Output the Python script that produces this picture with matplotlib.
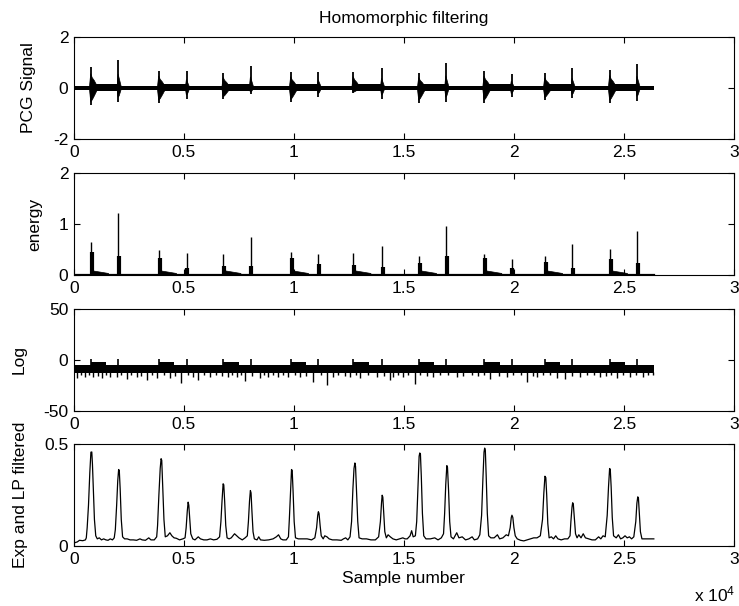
import matplotlib
matplotlib.use("Agg")
import matplotlib.pyplot as plt

plt.rcParams['font.family'] = ['Liberation Sans', 'DejaVu Sans']
plt.rcParams['axes.unicode_minus'] = False
plt.rcParams['mathtext.default'] = 'regular'

# ---------------- data ----------------
title = "Homomorphic filtering"
ylabels = ["PCG Signal", "energy", "Log", "Exp and LP filtered"]
xlabel = "Sample number"
x_ticks = [0, 5000, 10000, 15000, 20000, 25000, 30000]
x_ticklabels = ["0", "0.5", "1", "1.5", "2", "2.5", "3"]
signal_end = 26360

# heart sound positions (S1, S2 alternating), in samples
sound_pos = [770, 2015, 3860, 5120, 6790, 8030, 9860, 11110, 12700,
             13990, 15680, 16910, 18650, 19890, 21410, 22650, 24360, 25600]
pcg_top = [0.81, 1.10, 0.68, 0.67, 0.60, 0.88, 0.64, 0.64, 0.64,
           0.77, 0.60, 0.97, 0.67, 0.54, 0.58, 0.77, 0.71, 0.93]
pcg_bot = [-0.67, -0.56, -0.60, -0.43, -0.43, -0.25, -0.56, -0.34, -0.21,
           -0.43, -0.60, -0.56, -0.60, -0.34, -0.47, -0.40, -0.60, -0.51]

energy_peak = [0.65, 1.21, 0.49, 0.44, 0.41, 0.74, 0.46, 0.41, 0.44,
               0.57, 0.38, 0.96, 0.42, 0.31, 0.38, 0.61, 0.51, 0.87]
energy_body = [0.46, 0.38, 0.33, 0.13, 0.18, 0.18, 0.33, 0.22, 0.20,
               0.15, 0.23, 0.38, 0.33, 0.13, 0.26, 0.14, 0.31, 0.24]

log_spike_x = [121, 500, 879, 1258, 1636, 1939, 2394, 2848, 3333, 3757,
               4364, 4848, 5424, 5651, 6182, 7015, 7394, 7772, 8454, 8833,
               9287, 9742, 10272, 10878, 11484, 11787, 12545, 13000, 13757,
               14363, 14514, 14969, 15498, 16333, 17393, 18377, 18909,
               19666, 20575, 21030, 21938, 22316, 22998, 23907, 24665,
               25271, 25877, 26331]
log_spike_y = [-18, -17, -16.3, -18, -17, -17, -19, -17, -19.6, -18,
               -18, -22.2, -17, -19.6, -17, -17, -17, -20.3, -18, -17,
               -17, -17, -16.3, -21.2, -24.5, -17, -17, -18, -17,
               -19.6, -17, -16.3, -23.9, -17, -17, -15.7, -19,
               -17, -21.2, -17, -18, -19, -17, -17, -18,
               -17, -17, -14.7]
# shallower dips along the lower edge of the log band
log_dip_x = [300, 700, 1080, 1450, 2150, 2600, 3050, 3550, 4100, 4600,
             5200, 5900, 6450, 6750, 7200, 7600, 8100, 8650, 9050, 9500,
             10050, 10550, 11250, 12000, 12300, 12800, 13350, 14100, 14750,
             15200, 15750, 16050, 16650, 17000, 17700, 18100, 18650, 19300,
             19950, 20300, 20850, 21300, 21650, 22650, 23300, 23650, 24200,
             24400, 24950, 25550, 26100]
log_dip_y = [-15, -14.5, -15.5, -14.5, -15, -14.5, -15.5, -14.5, -15, -15.5,
             -14.5, -15, -14.5, -15.5, -14.5, -15, -15.5, -14.5, -15, -14.5,
             -15, -15.5, -14.5, -15, -15.5, -14.5, -15, -15.5, -14.5,
             -15, -14.5, -15.5, -15, -14.5, -15.5, -15, -14.5, -15.5,
             -14.5, -15, -15.5, -14.5, -15, -15.5, -14.5, -15, -15.5,
             -14.5, -15, -14.5, -15]

env_x = [0, 150, 250, 400, 520, 560,
         600, 660, 720, 770, 810, 840, 880, 930, 990, 1060, 1150, 1250, 1350,
         1450, 1550, 1650, 1750, 1830,
         1880, 1940, 1990, 2030, 2060, 2100, 2150, 2210, 2300, 2420, 2550,
         2700, 2850, 3000, 3100, 3250, 3400, 3500, 3650, 3760,
         3800, 3860, 3920, 3960, 3990, 4030, 4090, 4150, 4250, 4360, 4450,
         4550, 4650, 4800, 4950, 5050,
         5100, 5150, 5190, 5220, 5260, 5310, 5400, 5500, 5650, 5750, 5900,
         6050, 6200, 6350, 6500, 6620,
         6680, 6730, 6780, 6810, 6850, 6900, 6960, 7050, 7150, 7300, 7400,
         7500, 7650, 7780, 7880,
         7930, 7980, 8020, 8050, 8090, 8140, 8200, 8320, 8400, 8480, 8650,
         8850, 9050, 9200, 9300, 9400, 9500, 9650, 9750,
         9790, 9850, 9890, 9920, 9960, 10010, 10070, 10200, 10400, 10600,
         10800, 10950,
         11030, 11080, 11110, 11140, 11190, 11240, 11330, 11400, 11500, 11600,
         11750, 11950, 12150, 12250, 12350, 12450, 12550,
         12620, 12680, 12730, 12770, 12800, 12840, 12900, 12960, 13100,
         13300, 13500, 13700, 13850,
         13930, 13980, 14010, 14040, 14080, 14130, 14200, 14280, 14380,
         14500, 14650, 14800, 14950, 15050, 15150, 15280, 15350, 15420, 15520,
         15580, 15640, 15690, 15720, 15750, 15790, 15840, 15900, 16000,
         16200, 16400, 16550, 16700, 16800,
         16850, 16900, 16950, 16980, 17030, 17080, 17140, 17250, 17400,
         17500, 17650, 17800, 17950, 18100, 18200, 18350, 18450,
         18530, 18590, 18640, 18670, 18700, 18740, 18790, 18850, 18950,
         19100, 19250, 19350, 19500, 19650, 19750,
         19830, 19880, 19910, 19950, 20000, 20060, 20150, 20300, 20450,
         20600, 20750, 20900, 21050, 21200,
         21300, 21360, 21410, 21450, 21490, 21540, 21600, 21700, 21800,
         21900, 22000, 22150, 22300, 22450, 22550,
         22590, 22640, 22670, 22700, 22750, 22800, 22870, 22950, 23050,
         23150, 23250, 23400, 23550, 23700, 23850, 23950, 24050, 24150,
         24240, 24300, 24350, 24380, 24420, 24470, 24530, 24650, 24750,
         24850, 24950, 25050, 25150, 25250, 25350, 25450,
         25540, 25590, 25630, 25660, 25700, 25750, 25820, 26000, 26360]
env_y = [0.015, 0.02, 0.028, 0.026, 0.03, 0.04,
         0.09, 0.2, 0.36, 0.46, 0.461, 0.40, 0.28, 0.13, 0.05, 0.035, 0.04,
         0.03, 0.035, 0.03, 0.028, 0.035, 0.03, 0.04,
         0.08, 0.2, 0.32, 0.375, 0.37, 0.28, 0.13, 0.045, 0.035, 0.035, 0.03,
         0.03, 0.028, 0.035, 0.03, 0.028, 0.04, 0.03, 0.03, 0.045,
         0.1, 0.25, 0.38, 0.428, 0.42, 0.3, 0.13, 0.045, 0.05, 0.065, 0.05,
         0.04, 0.038, 0.03, 0.035, 0.04,
         0.09, 0.17, 0.215, 0.2, 0.14, 0.06, 0.035, 0.03, 0.045, 0.035, 0.03,
         0.03, 0.035, 0.03, 0.033, 0.045,
         0.12, 0.22, 0.305, 0.3, 0.22, 0.1, 0.04, 0.035, 0.04, 0.06, 0.05,
         0.04, 0.03, 0.04, 0.05,
         0.12, 0.22, 0.272, 0.26, 0.17, 0.07, 0.035, 0.03, 0.045, 0.03, 0.028,
         0.03, 0.035, 0.045, 0.055, 0.035, 0.03, 0.03, 0.045,
         0.13, 0.28, 0.375, 0.37, 0.27, 0.12, 0.04, 0.035, 0.035, 0.035,
         0.03, 0.04,
         0.09, 0.15, 0.168, 0.16, 0.1, 0.05, 0.035, 0.05, 0.045, 0.035,
         0.03, 0.03, 0.028, 0.035, 0.04, 0.03, 0.045,
         0.12, 0.28, 0.38, 0.407, 0.39, 0.28, 0.12, 0.04, 0.035,
         0.035, 0.03, 0.03, 0.045,
         0.12, 0.21, 0.249, 0.24, 0.16, 0.07, 0.04, 0.055, 0.045,
         0.035, 0.03, 0.035, 0.04, 0.035, 0.035, 0.05, 0.075, 0.045, 0.05,
         0.12, 0.3, 0.44, 0.456, 0.45, 0.34, 0.16, 0.05, 0.035,
         0.035, 0.04, 0.03, 0.04, 0.06,
         0.16, 0.3, 0.394, 0.385, 0.27, 0.12, 0.045, 0.035, 0.065,
         0.04, 0.045, 0.03, 0.035, 0.045, 0.03, 0.035, 0.055,
         0.15, 0.33, 0.46, 0.48, 0.47, 0.34, 0.16, 0.05, 0.04,
         0.04, 0.055, 0.035, 0.04, 0.055, 0.05,
         0.09, 0.14, 0.151, 0.14, 0.09, 0.05, 0.035, 0.028, 0.025,
         0.03, 0.035, 0.04, 0.04, 0.05,
         0.13, 0.26, 0.342, 0.335, 0.25, 0.11, 0.04, 0.045, 0.035,
         0.05, 0.035, 0.03, 0.035, 0.035, 0.05,
         0.12, 0.19, 0.212, 0.205, 0.13, 0.06, 0.04, 0.055, 0.04,
         0.06, 0.04, 0.035, 0.03, 0.03, 0.045, 0.035, 0.05, 0.045,
         0.15, 0.29, 0.38, 0.375, 0.29, 0.14, 0.05, 0.04, 0.055,
         0.035, 0.04, 0.05, 0.04, 0.045, 0.035, 0.045,
         0.12, 0.21, 0.241, 0.235, 0.16, 0.07, 0.035, 0.035, 0.035]

# ---------------- figure ----------------
fig = plt.figure(figsize=(7.39, 6.06), dpi=100)
left, width, height = 0.1001, 0.893, 0.1683
bottoms = [0.7706, 0.5462, 0.3218, 0.0990]
axes = [fig.add_axes([left, b, width, height]) for b in bottoms]

FS = 12.5
s1 = sound_pos[0::2]
s2 = sound_pos[1::2]

# Panel 1: PCG signal
ax = axes[0]
ax.fill_between([0, signal_end], [-0.06, -0.06], [0.06, 0.06], color='k', lw=0)
for a, b in zip(s1, s2):
    ax.fill_between([a, b], [-0.12, -0.12], [0.14, 0.14], color='k', lw=0)
for i, (p, t, bt) in enumerate(zip(sound_pos, pcg_top, pcg_bot)):
    if i % 2 == 0:
        xs = [p - 70, p - 10, p + 60, p + 160, p + 330, p + 160, p + 60, p - 10]
        ys = [0, t * 0.7, t * 0.5, t * 0.35, 0, bt * 0.45, bt * 0.7, bt * 0.8]
    else:
        xs = [p - 60, p - 10, p + 40, p + 150, p + 40, p - 10]
        ys = [0, t * 0.5, t * 0.35, 0, bt * 0.55, bt * 0.65]
    ax.fill(xs, ys, color='k', lw=0.5)
ax.vlines(sound_pos, pcg_bot, pcg_top, color='k', lw=1.3)
ax.set_ylim(-2, 2)
ax.set_yticks([-2, 0, 2])
ax.set_yticklabels(["-2", "0", "2"])

# Panel 2: energy
ax = axes[1]
ax.plot([0, signal_end], [0, 0], color='k', lw=1.6)
for a in s1:
    ax.fill([a, a + 100, a + 800, a + 800], [0, 0.08, 0.03, 0], color='k', lw=0.5)
ax.vlines(sound_pos, 0, energy_peak, color='k', lw=1.0)
ax.vlines([p + 40 for p in sound_pos], 0, energy_body, color='k', lw=3.0)
ax.set_ylim(0, 2)
ax.set_yticks([0, 1, 2])
ax.set_yticklabels(["0", "1", "2"])

# Panel 3: Log
ax = axes[2]
ax.fill_between([0, signal_end], [-13, -13], [-4.5, -4.5], color='k', lw=0)
for a, b in zip(s1, s2):
    ax.fill_between([a, a + 700], [-13, -13], [-1.5, -1.5], color='k', lw=0)
ax.vlines(sound_pos, -10, 0.8, color='k', lw=1.2)
ax.vlines(log_spike_x, -12, log_spike_y, color='k', lw=1.0)
ax.vlines(log_dip_x, -12, log_dip_y, color='k', lw=1.0)
ax.set_ylim(-50, 50)
ax.set_yticks([-50, 0, 50])
ax.set_yticklabels(["-50", "0", "50"])

# Panel 4: Exp and LP filtered
ax = axes[3]
ax.plot(env_x, env_y, color='k', lw=0.9)
ax.set_ylim(0, 0.5)
ax.set_yticks([0, 0.5])
ax.set_yticklabels(["0", "0.5"])

for ax, lab in zip(axes, ylabels):
    ax.set_xlim(0, 30000)
    ax.set_xticks(x_ticks)
    ax.set_xticklabels(x_ticklabels)
    ax.tick_params(direction='in', length=4, width=0.8, top=True, right=True,
                   labelsize=FS, pad=4)
    for sp in ax.spines.values():
        sp.set_linewidth(0.8)
    ax.set_ylabel(lab, fontsize=FS, labelpad=12)

axes[0].set_title(title, fontsize=FS, pad=10)
axes[3].set_xlabel(xlabel, fontsize=FS, labelpad=3)
fig.text(0.995, 0.007, r"x 10$^{4}$", ha='right', va='baseline', fontsize=FS)

fig.savefig("out.png", dpi=100)
